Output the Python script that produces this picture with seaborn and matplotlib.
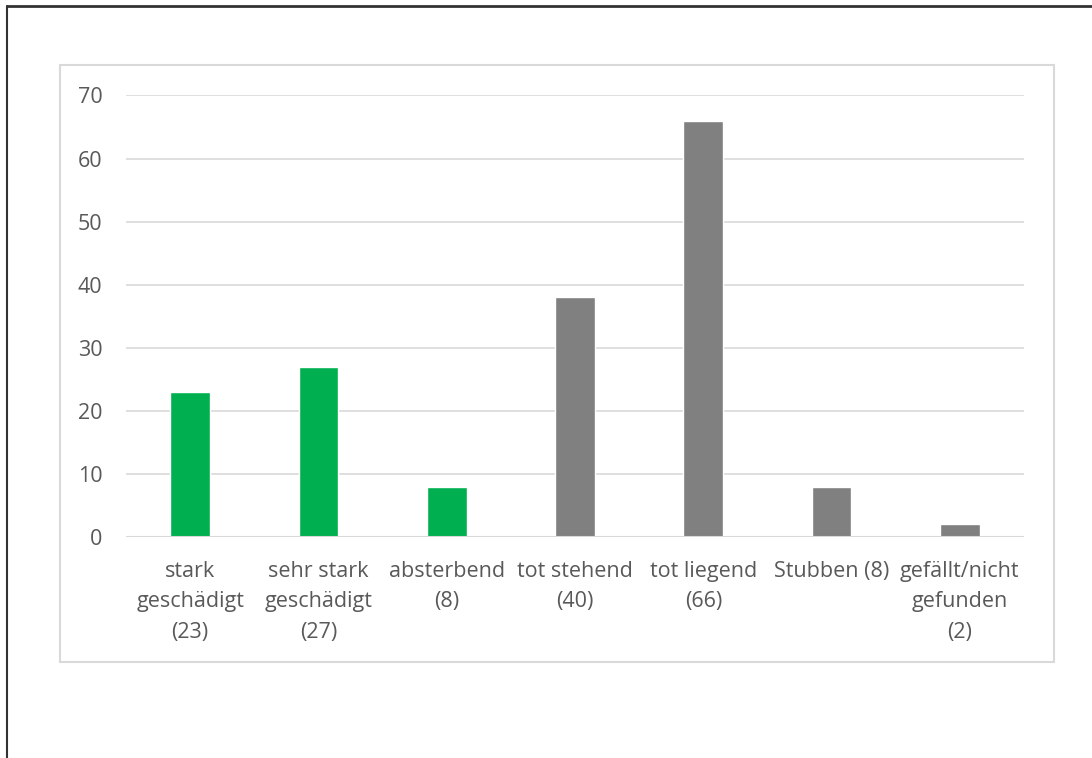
import seaborn as sns
import matplotlib.pyplot as plt
from matplotlib.patches import Rectangle
from matplotlib.lines import Line2D

# Daten
kategorien = ["stark\ngeschädigt\n(23)", "sehr stark\ngeschädigt\n(27)", "absterbend\n(8)",
              "tot stehend\n(40)", "tot liegend\n(66)", "Stubben (8)",
              "gefällt/nicht\ngefunden\n(2)"]
werte = [23, 27, 8, 38, 66, 8, 2]
farben = ["#00B050", "#00B050", "#00B050", "#808080", "#808080", "#808080", "#808080"]
y_ticks = [0, 10, 20, 30, 40, 50, 60, 70]

sns.set_style("white")
plt.rcParams['font.family'] = ['Open Sans', 'DejaVu Sans']
text_farbe = "#595959"

W, H = 1092, 758
fig = plt.figure(figsize=(W / 100, H / 100), dpi=100)
ax = fig.add_axes([126 / W, (H - 537) / H, (1024 - 126) / W, (537 - 95.5) / H])

sns.barplot(x=kategorien, y=werte, hue=kategorien, palette=farben, legend=False,
            width=0.31, saturation=1, ax=ax, zorder=3)

ax.set_ylim(0, 70)
ax.set_xlim(-0.5, len(kategorien) - 0.5)
ax.set_yticks(y_ticks)
ax.yaxis.grid(True, color="#D9D9D9", linewidth=1.2, zorder=0)
ax.set_axisbelow(True)
for s in ax.spines.values():
    s.set_visible(False)
ax.axhline(0, color="#D9D9D9", linewidth=1.5, zorder=4)
ax.tick_params(axis="both", length=0, labelsize=15.5, colors=text_farbe)
ax.tick_params(axis="x", pad=17)
ax.tick_params(axis="y", pad=17)
for lbl in ax.get_xticklabels():
    lbl.set_linespacing(1.6)
ax.set_xlabel("")
ax.set_ylabel("")

# Rahmen des Diagrammbereichs
fig.patches.append(Rectangle((60 / W, (H - 662) / H), (1054 - 60) / W, (662 - 65) / H,
                             transform=fig.transFigure, fill=False,
                             edgecolor="#D9D9D9", linewidth=1.5))
# äußerer Rand (oben und links)
fig.lines.append(Line2D([7 / W, 1], [(H - 6) / H, (H - 6) / H], transform=fig.transFigure,
                        color="#333333", linewidth=2))
fig.lines.append(Line2D([7 / W, 7 / W], [0, (H - 6) / H], transform=fig.transFigure,
                        color="#333333", linewidth=1.5))

plt.savefig("out.png", dpi=100)
